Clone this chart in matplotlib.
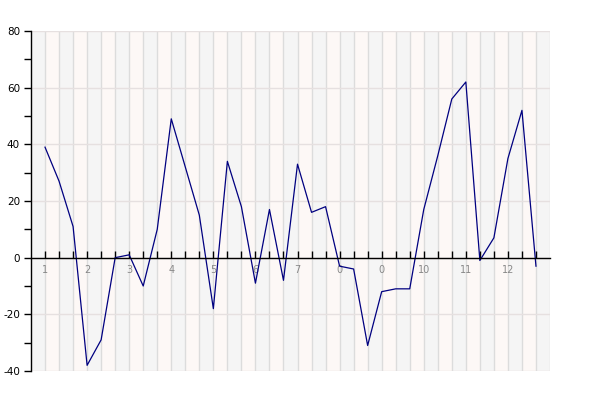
import matplotlib
matplotlib.use("Agg")
import matplotlib.pyplot as plt
from matplotlib.ticker import MultipleLocator

plt.rcParams['axes.unicode_minus'] = False

# 36 points, 3 per month
values = [39, 27, 11, -38, -29, 0, 1, -10, 10,
          49, 32, 15, -18, 34, 18, -9, 17, -8,
          33, 16, 18, -3, -4, -31, -12, -11, -11,
          17, 36, 56, 62, -1, 7, 35, 52, -3]
month_labels = ["1", "2", "3", "4", "5", "6", "7", "0", "0", "10", "11", "12"]

x = list(range(len(values)))
n = len(values)

fig = plt.figure(figsize=(6, 4), dpi=100)
ax = fig.add_axes([31/600, 29/400, 519/600, 340/400])

# alternating background stripes
for k in range(-1, n):
    col = "#fdf8f6" if k % 2 == 0 else "#f5f5f5"
    ax.axvspan(k, k + 1, color=col, lw=0, zorder=0)

# grid
for k in range(0, n + 1):
    ax.axvline(k, color="#dcdcdc", lw=1, zorder=1)
for yv in range(-40, 81, 20):
    ax.axhline(yv, color="#e6e0e0", lw=1, zorder=1)

ax.plot(x, values, color="#000080", lw=0.9, zorder=3)

ax.set_xlim(-1, n)
ax.set_ylim(-40, 80)

for s in ["top", "right"]:
    ax.spines[s].set_visible(False)
ax.spines["bottom"].set_position(("data", 0))
ax.spines["bottom"].set_bounds(-1, n)
ax.spines["bottom"].set_zorder(4)
ax.spines["left"].set_linewidth(1)
ax.spines["bottom"].set_linewidth(1)

ax.set_xticks(x)
ax.set_xticklabels([month_labels[i // 3] if i % 3 == 0 else "" for i in x])
ax.tick_params(axis="x", direction="in", length=5, width=1, pad=5,
               labelsize=7, labelcolor="#888888")

ax.yaxis.set_major_locator(MultipleLocator(20))
ax.yaxis.set_minor_locator(MultipleLocator(10))
ax.tick_params(axis="y", which="both", direction="out", length=5, width=1,
               pad=3, labelsize=7.5)

fig.savefig("out.png", dpi=100)
